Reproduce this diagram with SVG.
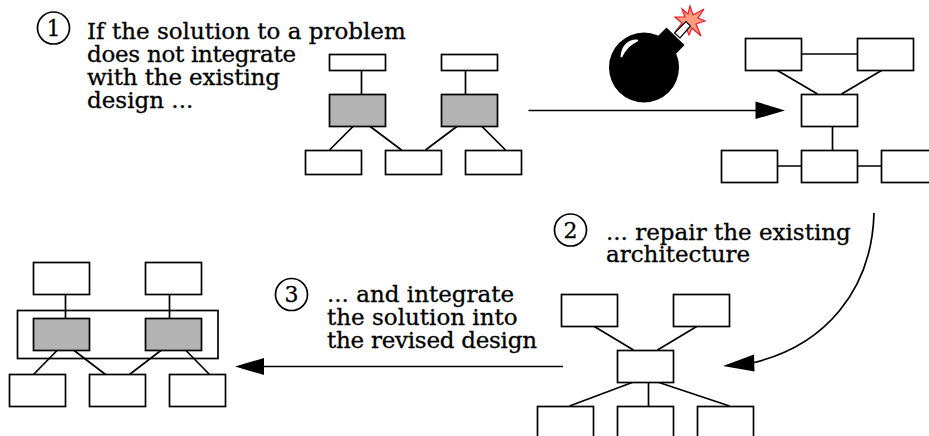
<svg xmlns="http://www.w3.org/2000/svg" width="929" height="436" viewBox="0 0 929 436">
<style>
.b{fill:#fff;stroke:#000;stroke-width:1.7}
.g{fill:#b3b3b3;stroke:#000;stroke-width:1.7}
.o{fill:none;stroke:#000;stroke-width:1.7}
.l{fill:none;stroke:#000;stroke-width:1.7}
.h{fill:#000;stroke:none}
.t{font-family:"DejaVu Serif",serif;font-size:23px;fill:#000;stroke:#000;stroke-width:.3}
.n{font-family:"DejaVu Serif",serif;font-size:22px;fill:#000;text-anchor:middle;stroke:#000;stroke-width:.3}
</style>
<rect width="929" height="436" fill="#fff"/>
<g id="connectors">
<path class="l" d="M361.5 70V94M465.5 70V94M353.5 126L329.5 150M369.5 126L401.5 150M457.5 126L425.5 150M481.5 126L505.5 150"/>
<path class="l" d="M802 54H857.5M777.5 70.500L817.500 94M881.500 70.500L841.500 94M832.500 126V150M778 166H801.500M857.500 166H881.500"/>
<path class="l" d="M593.500 326L633.500 350M697.500 326L657.500 350M633.500 382L569.500 406M648.500 382V406M657.500 382L729.500 406"/>
<path class="l" d="M65.500 294V318.500M169.500 294V318.500M57.500 350L33.500 374.500M73.500 350L105.500 374.500M161.500 350L129.500 374.500M185.500 350L209.500 374.500"/>
<path class="l" d="M528.500 110.500H756"/>
<polygon class="h" points="785,110.500 755.500,101.500 755.500,119"/>
<path class="l" d="M874 213C872 290 825 346 752 363"/>
<polygon class="h" points="723,366 754,354.500 754.500,371.500"/>
<path class="l" d="M563 366.500H263"/>
<polygon class="h" points="235,366.500 264,358 264,375"/>
</g>
<g id="label-1">
<circle class="o" cx="53.500" cy="28" r="16"/><text class="n" x="53.500" y="36">1</text>
<text class="t" x="87" y="38.500">If the solution to a problem</text>
<text class="t" x="87" y="61.500" textLength="209">does not integrate</text>
<text class="t" x="87" y="84.500" textLength="193">with the existing</text>
<text class="t" x="87" y="107.500">design ...</text>
</g>
<g id="label-2">
<circle class="o" cx="570.500" cy="230" r="16"/><text class="n" x="570.500" y="238">2</text>
<text class="t" x="606" y="239.500">... repair the existing</text>
<text class="t" x="606" y="262">architecture</text>
</g>
<g id="label-3">
<circle class="o" cx="291.500" cy="294.500" r="16"/><text class="n" x="291.500" y="302">3</text>
<text class="t" x="327" y="302">... and integrate</text>
<text class="t" x="327" y="325">the solution into</text>
<text class="t" x="327" y="348" textLength="210">the revised design</text>
</g>
<g id="bomb">
<polygon fill="#000" points="666.500,27.500 684.500,45 672,58 654,40"/>
<polygon fill="#ff9d7f" stroke="#f01828" stroke-width="1.200" points="690,6 693,15 704,9 698,18 705,21 696,24 701,36 692,28 689,35 686,28 676,31 682,23 675,17 685,17 682,9 688,14"/>
<polygon fill="#fff" stroke="#000" stroke-width="1.200" points="674.500,33 686,21.500 690.500,26 680,38"/>
<circle cx="644" cy="67.500" r="35" fill="#000"/>
<path fill="#fff" d="M620.500 57C621 46 628 39 637 39.500C640 40 637 42 634 43.500C628 47 624 53 622 57.500Z"/>
</g>
<g id="s1-t1"><rect class="b" x="329.500" y="54.500" width="56" height="16"/></g>
<g id="s1-t2"><rect class="b" x="441.500" y="54.500" width="56" height="16"/></g>
<g id="s1-g1"><rect class="g" x="329.500" y="94.500" width="56" height="32"/></g>
<g id="s1-g2"><rect class="g" x="441.500" y="94.500" width="56" height="32"/></g>
<g id="s1-b1"><rect class="b" x="305.500" y="150.500" width="56" height="24"/></g>
<g id="s1-b2"><rect class="b" x="385.500" y="150.500" width="56" height="24"/></g>
<g id="s1-b3"><rect class="b" x="465.500" y="150.500" width="56" height="24"/></g>
<g id="s2-t1"><rect class="b" x="745.500" y="38.500" width="56" height="32"/></g>
<g id="s2-t2"><rect class="b" x="857.500" y="38.500" width="56" height="32"/></g>
<g id="s2-m"><rect class="b" x="801.500" y="94.500" width="56" height="32"/></g>
<g id="s2-b1"><rect class="b" x="721.500" y="150.500" width="56" height="32"/></g>
<g id="s2-b2"><rect class="b" x="801.500" y="150.500" width="56" height="32"/></g>
<g id="s2-b3"><rect class="b" x="881.500" y="150.500" width="56" height="32"/></g>
<g id="s3-t1"><rect class="b" x="561.500" y="294.500" width="56" height="32"/></g>
<g id="s3-t2"><rect class="b" x="673.500" y="294.500" width="56" height="32"/></g>
<g id="s3-m"><rect class="b" x="617.500" y="350.500" width="56" height="32"/></g>
<g id="s3-b1"><rect class="b" x="537.500" y="406.500" width="56" height="40"/></g>
<g id="s3-b2"><rect class="b" x="617.500" y="406.500" width="56" height="40"/></g>
<g id="s3-b3"><rect class="b" x="697.500" y="406.500" width="56" height="40"/></g>
<g id="s4-outer"><rect class="o" x="17.500" y="310.500" width="200.500" height="48"/></g>
<g id="s4-t1"><rect class="b" x="33.500" y="262.500" width="56" height="32"/></g>
<g id="s4-t2"><rect class="b" x="145.500" y="262.500" width="56" height="32"/></g>
<g id="s4-g1"><rect class="g" x="33.500" y="318.500" width="56" height="32"/></g>
<g id="s4-g2"><rect class="g" x="145.500" y="318.500" width="56" height="32"/></g>
<g id="s4-b1"><rect class="b" x="9.500" y="374.500" width="56" height="32"/></g>
<g id="s4-b2"><rect class="b" x="89.500" y="374.500" width="56" height="32"/></g>
<g id="s4-b3"><rect class="b" x="169.500" y="374.500" width="56" height="32"/></g>
</svg>
